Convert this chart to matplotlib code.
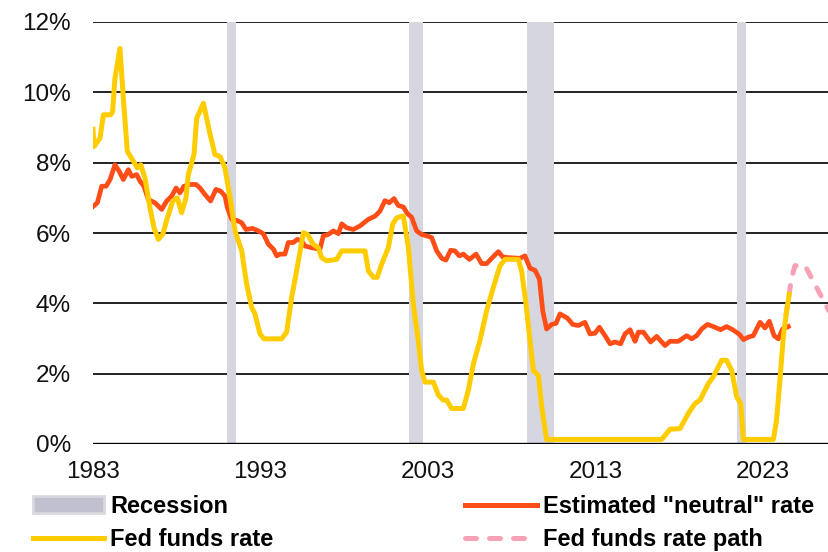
import matplotlib
matplotlib.use("Agg")
import matplotlib.pyplot as plt
import matplotlib.patches as mpatches
from matplotlib.lines import Line2D

# Fed funds rate (%)
fed_years = [1983.0, 1983.06, 1983.42, 1983.62, 1984.05, 1984.17, 1984.31, 1984.61, 1984.81, 1985.05,
             1985.41, 1985.65, 1985.85, 1986.10, 1986.40, 1986.64, 1986.90, 1987.16, 1987.44, 1987.76,
             1988.03, 1988.29, 1988.55, 1988.69, 1989.03, 1989.19, 1989.59, 1989.95, 1990.28, 1990.58,
             1990.88, 1991.18, 1991.48, 1991.88, 1992.17, 1992.47, 1992.67, 1992.97, 1993.21, 1994.26,
             1994.56, 1994.86, 1995.12, 1995.56, 1995.80, 1996.15, 1996.45, 1996.65, 1996.95, 1997.55,
             1997.85, 1999.24, 1999.44, 1999.74, 1999.97, 2000.23, 2000.63, 2000.89, 2001.13, 2001.43,
             2001.53, 2001.83, 2002.12, 2002.42, 2002.62, 2002.82, 2003.32, 2003.62, 2003.91, 2004.11,
             2004.41, 2005.11, 2005.41, 2005.71, 2006.10, 2006.50, 2006.90, 2007.30, 2007.60, 2008.39,
             2008.59, 2008.85, 2009.09, 2009.29, 2009.59, 2009.79, 2010.08, 2016.95, 2017.45, 2018.05,
             2018.54, 2018.94, 2019.24, 2019.74, 2020.03, 2020.53, 2020.83, 2021.13, 2021.43, 2021.67,
             2021.83, 2023.62, 2023.81, 2024.01, 2024.21, 2024.41, 2024.57]
fed_rate = [8.95, 8.46, 8.70, 9.36, 9.36, 9.45, 10.40, 11.25, 9.83, 8.32,
            8.04, 7.85, 7.94, 7.57, 6.72, 6.15, 5.82, 5.96, 6.43, 6.91,
            7.00, 6.58, 7.00, 7.66, 8.23, 9.26, 9.69, 8.89, 8.23, 8.18,
            7.85, 7.00, 6.06, 5.49, 4.55, 3.89, 3.70, 3.13, 2.99, 2.99,
            3.18, 4.17, 4.83, 6.01, 5.96, 5.68, 5.58, 5.30, 5.21, 5.25,
            5.49, 5.49, 4.92, 4.74, 4.74, 5.11, 5.58, 6.25, 6.43, 6.48,
            6.48, 5.58, 3.98, 2.94, 2.09, 1.76, 1.76, 1.39, 1.25, 1.25,
            1.01, 1.01, 1.53, 2.28, 2.94, 3.79, 4.45, 5.07, 5.25, 5.25,
            4.92, 3.98, 2.94, 2.09, 1.95, 1.06, 0.13, 0.13, 0.42, 0.44,
            0.87, 1.15, 1.25, 1.72, 1.91, 2.38, 2.38, 2.09, 1.34, 1.15,
            0.13, 0.13, 0.68, 1.81, 3.04, 3.79, 4.26]

# Estimated "neutral" rate (%)
neutral_years = [1983.02, 1983.26, 1983.52, 1983.78, 1984.02, 1984.31, 1984.57, 1984.81, 1985.11, 1985.31,
                 1985.61, 1985.81, 1986.04, 1986.30, 1986.70, 1987.10, 1987.40, 1987.70, 1987.96, 1988.19,
                 1988.43, 1988.79, 1989.15, 1989.39, 1989.69, 1990.02, 1990.34, 1990.62, 1990.88, 1991.02,
                 1991.28, 1991.58, 1991.88, 1992.13, 1992.53, 1992.87, 1993.17, 1993.47, 1993.77, 1993.97,
                 1994.16, 1994.46, 1994.66, 1994.96, 1995.20, 1995.46, 1995.66, 1996.06, 1996.55, 1996.75,
                 1997.05, 1997.35, 1997.65, 1997.85, 1998.14, 1998.54, 1998.94, 1999.44, 1999.84, 2000.13,
                 2000.43, 2000.69, 2000.97, 2001.23, 2001.53, 2001.77, 2002.02, 2002.32, 2002.62, 2002.92,
                 2003.22, 2003.52, 2003.82, 2004.07, 2004.35, 2004.61, 2004.87, 2005.11, 2005.47, 2005.87,
                 2006.20, 2006.50, 2006.80, 2007.20, 2007.46, 2007.80, 2008.49, 2008.79, 2009.09, 2009.39,
                 2009.65, 2009.85, 2010.08, 2010.38, 2010.64, 2010.88, 2011.32, 2011.64, 2011.98, 2012.37,
                 2012.67, 2012.97, 2013.23, 2013.57, 2013.87, 2014.16, 2014.50, 2014.76, 2015.06, 2015.36,
                 2015.56, 2015.86, 2016.29, 2016.65, 2017.15, 2017.45, 2017.95, 2018.44, 2018.74, 2019.04,
                 2019.34, 2019.68, 2020.03, 2020.47, 2020.83, 2021.19, 2021.59, 2021.83, 2022.13, 2022.42,
                 2022.82, 2023.12, 2023.38, 2023.66, 2023.92, 2024.17, 2024.51]
neutral_rate = [6.76, 6.86, 7.33, 7.33, 7.52, 7.94, 7.75, 7.52, 7.80, 7.61,
                7.66, 7.47, 7.33, 6.95, 6.86, 6.67, 6.91, 7.05, 7.28, 7.14,
                7.33, 7.38, 7.38, 7.28, 7.09, 6.91, 7.24, 7.19, 7.05, 6.72,
                6.39, 6.36, 6.29, 6.10, 6.13, 6.06, 5.98, 5.68, 5.54, 5.35,
                5.40, 5.40, 5.73, 5.73, 5.82, 5.77, 5.63, 5.58, 5.54, 5.92,
                5.96, 6.06, 5.98, 6.26, 6.15, 6.10, 6.20, 6.39, 6.48, 6.62,
                6.92, 6.86, 6.98, 6.78, 6.74, 6.55, 6.45, 6.06, 5.96, 5.92,
                5.87, 5.49, 5.28, 5.23, 5.51, 5.49, 5.35, 5.40, 5.25, 5.40,
                5.13, 5.13, 5.28, 5.47, 5.32, 5.30, 5.28, 5.35, 5.00, 4.94,
                4.69, 3.79, 3.27, 3.40, 3.43, 3.70, 3.58, 3.40, 3.37, 3.46,
                3.13, 3.15, 3.32, 3.08, 2.85, 2.90, 2.85, 3.13, 3.25, 2.92,
                3.18, 3.18, 2.90, 3.06, 2.80, 2.92, 2.92, 3.08, 2.99, 3.08,
                3.27, 3.40, 3.34, 3.25, 3.34, 3.25, 3.12, 2.97, 3.04, 3.08,
                3.46, 3.30, 3.49, 3.08, 2.99, 3.27, 3.34]

# Projected fed funds rate path (%)
path_years = [2024.37, 2024.71, 2024.91, 2025.51, 2026.20, 2026.94]
path_rate = [3.65, 4.74, 5.07, 5.07, 4.45, 3.79]

# Recession shading as drawn on the chart
recession_start = [1990.98, 2001.88, 2008.93, 2021.43]
recession_end = [1991.54, 2002.68, 2010.52, 2021.98]

year_ticks = [1983, 1993, 2003, 2013, 2023]
pct_ticks = [0, 2, 4, 6, 8, 10, 12]

YELLOW = "#FFCC00"
ORANGE = "#FF4D17"
PINK = "#F7A1B6"
GREY = "#D6D6E0"

plt.rcParams["font.family"] = ["Liberation Sans", "DejaVu Sans"]

fig = plt.figure(figsize=(8.29, 5.52), dpi=100)
ax = fig.add_axes([93 / 829, 108 / 552, 736 / 829, 422 / 552])

# gridlines sit under the recession bars
for p in pct_ticks[1:]:
    ax.axhline(p, color="#111111", lw=1.3, zorder=1)
for s, e in zip(recession_start, recession_end):
    ax.axvspan(s, e, color=GREY, lw=0, zorder=2)
ax.axhline(0, color="#000000", lw=2.4, zorder=3)

ax.plot(path_years, path_rate, color=PINK, lw=3.6, ls=(0, (1.8, 2.5)),
        dash_capstyle="round", zorder=4)
ax.plot(neutral_years, neutral_rate, color=ORANGE, lw=3.4,
        solid_joinstyle="round", zorder=5)
ax.plot(fed_years, fed_rate, color=YELLOW, lw=3.6,
        solid_joinstyle="round", zorder=6)

ax.set_xlim(1983, 2026.94)
ax.set_ylim(0, 12)
ax.set_xticks(year_ticks)
ax.set_xticklabels([str(y) for y in year_ticks])
ax.set_yticks(pct_ticks)
ax.set_yticklabels([f"{p}%" for p in pct_ticks])
ax.tick_params(axis="both", length=0, labelsize=17.5, colors="#111111")
ax.tick_params(axis="y", pad=16)
ax.tick_params(axis="x", pad=12)
for sp in ax.spines.values():
    sp.set_visible(False)

leg_kw = dict(frameon=False, borderpad=0, borderaxespad=0,
              handletextpad=0.26, labelspacing=0.42,
              prop={"weight": "bold", "size": 17})
h1 = [mpatches.FancyBboxPatch((0, 0), 1, 1, boxstyle="round,pad=0,rounding_size=2",
                              facecolor="#C0C0CE", edgecolor="#D8D8E0", lw=2),
      Line2D([], [], color=YELLOW, lw=3.6)]
h2 = [Line2D([], [], color=ORANGE, lw=3.6),
      Line2D([], [], color=PINK, lw=3.6, ls=(0, (2.2, 2.6)), dash_capstyle="round")]
fig.legend(h1, ["Recession", "Fed funds rate"], loc="upper left",
           bbox_to_anchor=(33 / 829, 0.1035), handlelength=3.0, **leg_kw)
fig.legend(h2, ['Estimated "neutral" rate', "Fed funds rate path"], loc="upper left",
           bbox_to_anchor=(465 / 829, 0.1035), handlelength=3.05, **leg_kw)

fig.savefig("out.png", dpi=100)
